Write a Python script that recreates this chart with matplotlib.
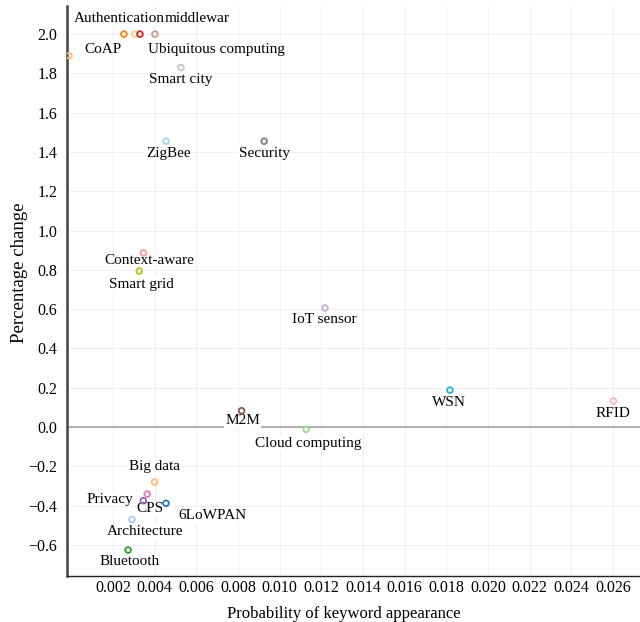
import numpy as np
import matplotlib.pyplot as plt

plt.rcParams['font.family'] = ['Liberation Serif', 'DejaVu Serif']

keywords = ['', 'CoAP', 'Authentication', 'middlewar', 'Ubiquitous computing',
            'Smart city', 'ZigBee', 'Security', 'Context-aware', 'Smart grid',
            'IoT sensor', 'M2M', 'Cloud computing', 'WSN', 'RFID', 'Big data',
            'Privacy', 'CPS', '6LoWPAN', 'Architecture', 'Bluetooth']
prob = [-0.0001, 0.00253, 0.00306, 0.00330, 0.00402,
        0.00527, 0.00455, 0.00926, 0.00347, 0.00327,
        0.01218, 0.00818, 0.01128, 0.01818, 0.02603, 0.00400,
        0.00365, 0.00346, 0.00455, 0.00292, 0.00273]
pct = [1.89, 2.0, 2.0, 2.0, 2.0,
       1.83, 1.455, 1.455, 0.886, 0.794,
       0.606, 0.083, -0.012, 0.188, 0.132, -0.28,
       -0.341, -0.375, -0.388, -0.47, -0.626]
colors = ['#ffbb78', '#ff7f0e', '#dbdb8d', '#d62728', '#c49c94',
          '#c7c7c7', '#9edae5', '#7f7f7f', '#ff9896', '#bcbd22',
          '#c5b0d5', '#8c564b', '#98df8a', '#17becf', '#f7b6d2', '#ffbb78',
          '#e377c2', '#9467bd', '#1f77b4', '#aec7e8', '#2ca02c']
# label offsets in pixels (dx, dy)
offsets = [(0, 0), (-21, -15), (-16, 16), (57, 16), (62, -15),
           (0, -12), (3, -12), (0, -12), (6, -8), (2, -13),
           (-1, -12), (1, -10), (2, -14), (-1, -12), (-1, -12), (0, 16),
           (-37, -5), (7, -8), (46, -12), (13, -12), (2, -11)]

fig = plt.figure(figsize=(6.4, 6.22), dpi=100)
ax = fig.add_axes([0.1047, 0.074, 0.8953, 0.916])

ax.axhline(0, color='#b0b0b0', lw=1.5, zorder=1)
for x, y, c in zip(prob, pct, colors):
    ax.scatter(x, y, s=17, facecolors='none', edgecolors=c, linewidths=1.3, zorder=5)
for x, y, t, (dx, dy) in zip(prob, pct, keywords, offsets):
    if t:
        ax.annotate(t, (x, y), xytext=(dx, dy), textcoords='offset pixels',
                    ha='center', va='center', fontsize=11, zorder=4,
                    bbox=dict(boxstyle='square,pad=0.05', fc='white', ec='none'))

ax.set_xlim(-0.0002, 0.0273)
ax.set_ylim(-0.758, 2.142)
xt = np.arange(0.002, 0.0261, 0.002)
ax.set_xticks(xt)
ax.set_xticklabels(['%.3f' % v for v in xt])
ax.set_yticks(np.arange(-0.6, 2.01, 0.2))
ax.yaxis.set_major_formatter(plt.FuncFormatter(lambda v, p: ('%.1f' % v).replace('-', '\u2212')))
ax.tick_params(length=0, labelsize=11.5)
ax.tick_params(axis='x', pad=3)
ax.tick_params(axis='y', pad=7)
ax.grid(True, color='#f0f0f0', lw=0.8)
ax.set_axisbelow(True)
for s in ['top', 'right']:
    ax.spines[s].set_visible(False)
ax.spines['left'].set_color('#444444')
ax.spines['left'].set_linewidth(1.8)
ax.spines['bottom'].set_color('#222222')
ax.spines['bottom'].set_linewidth(1.0)
ax.set_xlabel('Probability of keyword appearance', fontsize=12)
ax.set_ylabel('Percentage change', fontsize=13.5)
ax.xaxis.set_label_coords(0.483, -0.052)
ax.yaxis.set_label_coords(-0.068, 0.533)

fig.savefig('out.png', dpi=100)
